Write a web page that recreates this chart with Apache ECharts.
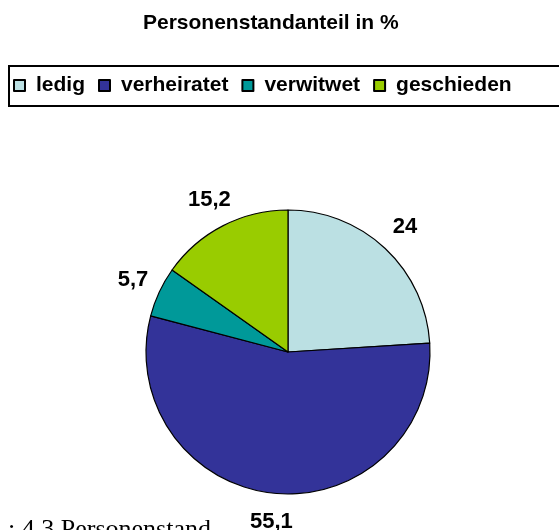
<!DOCTYPE html>
<html>
<head>
<meta charset="utf-8">
<script src="https://cdn.jsdelivr.net/npm/echarts@6/dist/echarts.min.js"></script>
<style>
  html, body { margin: 0; padding: 0; background: #fff; }
  #chart { width: 559px; height: 530px; }
</style>
</head>
<body>
<div id="chart"></div>
<script>
// Personenstand in %
const categories = ['ledig', 'verheiratet', 'verwitwet', 'geschieden'];
const values = [24, 55.1, 5.7, 15.2];
const valueLabels = ['24', '55,1', '5,7', '15,2'];
const colors = ['#bbe0e3', '#333399', '#009999', '#99cc00'];

const font = '"Liberation Sans", Arial, sans-serif';

const pieData = categories.map((name, i) => ({
  name: name,
  value: values[i],
  itemStyle: { color: colors[i] }
}));

const chart = echarts.init(document.getElementById('chart'));

chart.setOption({
  animation: false,
  title: {
    text: 'Personenstandanteil in %',
    left: 138,
    top: 8,
    textStyle: { fontFamily: font, fontWeight: 'bold', fontSize: 21, color: '#000' }
  },
  legend: {
    data: categories,
    left: 9,
    top: 66,
    width: 600,
    orient: 'horizontal',
    borderColor: '#000',
    borderWidth: 2,
    padding: [9, 60, 10, 4],
    itemWidth: 11,
    itemHeight: 11,
    itemGap: 13,
    icon: 'rect',
    selectedMode: false,
    textStyle: {
      fontFamily: font, fontWeight: 'bold', fontSize: 21, color: '#000',
      padding: [0, 0, 0, 6]
    }
  },
  series: [
    {
      type: 'pie',
      center: [288, 352],
      radius: 142,
      startAngle: 90,
      clockwise: true,
      silent: true,
      label: { show: false },
      labelLine: { show: false },
      itemStyle: { borderColor: '#000', borderWidth: 1.2 },
      data: pieData
    },
    {
      // unsichtbarer Ring, nur fuer die Beschriftungen ausserhalb
      type: 'pie',
      center: [288, 352],
      radius: [142, 194],
      startAngle: 90,
      clockwise: true,
      silent: true,
      itemStyle: { color: 'rgba(0,0,0,0)' },
      label: {
        show: true,
        position: 'inside',
        formatter: (p) => valueLabels[p.dataIndex],
        fontFamily: font, fontWeight: 'bold', fontSize: 22, color: '#000'
      },
      labelLine: { show: false },
      data: categories.map((name, i) => ({ name: name, value: values[i] }))
    }
  ],
  graphic: [
    {
      type: 'text',
      left: 8,
      top: 517,
      style: {
        text: ': 4.3 Personenstand',
        font: '26px "Liberation Serif", "Times New Roman", serif',
        fill: '#000'
      }
    }
  ]
});
</script>
</body>
</html>
